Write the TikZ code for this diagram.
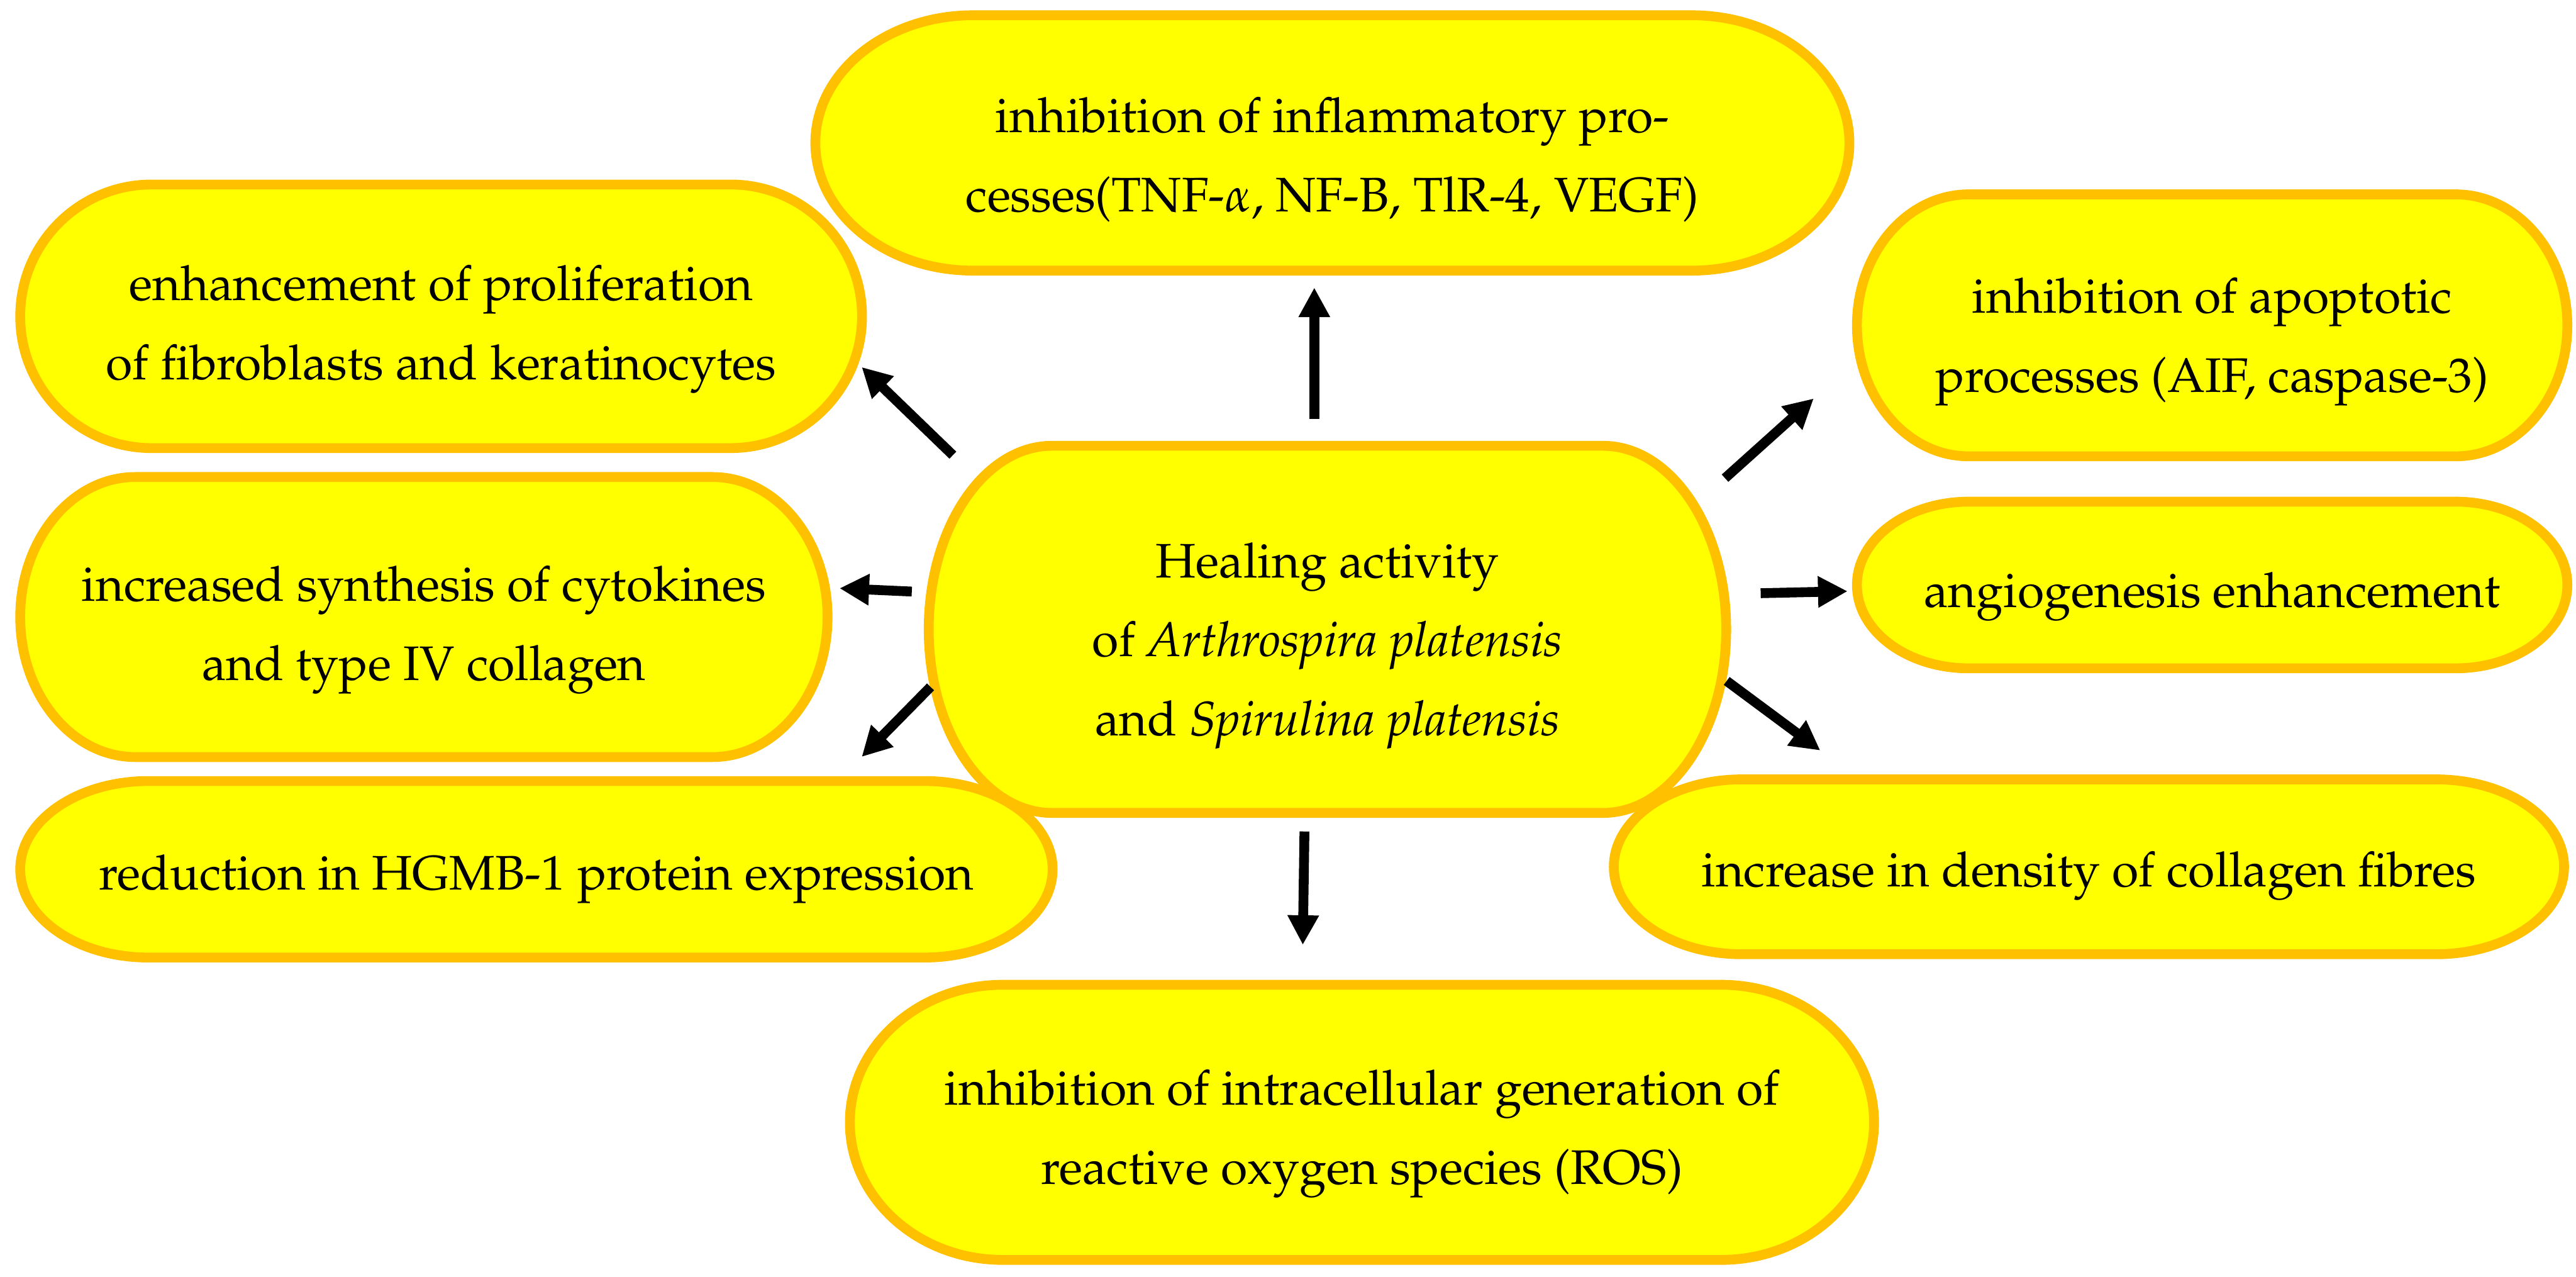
\documentclass[tikz,border=0pt]{standalone}
\usepackage[T1]{fontenc}
\usepackage{mathpazo}
\usepackage{tikz}
\usepackage{xcolor}
\usetikzlibrary{arrows.meta,backgrounds,calc}
\definecolor{pillyellow}{HTML}{FFFF00}
\definecolor{pillorange}{HTML}{FFC000}

\begin{document}
\begin{tikzpicture}[
	box/.style={inner sep=0pt, align=center, font=\fontsize{8.4}{13.7}\selectfont},
	outline/.style={draw=pillorange, fill=pillyellow, line width=1.7pt},
	arr/.style={-{Triangle[length=0.18cm,width=0.18cm]}, line width=1.7pt}
]

			\useasboundingbox (0,0) rectangle (15.68,7.77);

			\node[box, minimum width=4.84cm, minimum height=2.22cm] (hub) at (8.08,3.84) {Healing activity\\ of \textit{Arthrospira platensis}\\ and \textit{Spirulina platensis}};

			\node[box, minimum width=6.28cm, minimum height=1.54cm] (infl) at (8.11,6.80) {inhibition of inflammatory pro-\\cesses(TNF-$\alpha$, NF-B, TlR-4, VEGF)};
			\node[box, minimum width=5.11cm, minimum height=1.59cm] (prolif) at (2.685,5.765) {enhancement of proliferation\\of fibroblasts and keratinocytes};
			\node[box, minimum width=4.90cm, minimum height=1.69cm] (synth) at (2.58,3.935) {increased synthesis of cytokines\\and type IV collagen};
			\node[box, minimum width=6.27cm, minimum height=1.06cm] (hgmb) at (3.265,2.42) {reduction in HGMB-1 protein expression};
			\node[box, minimum width=6.22cm, minimum height=1.66cm] (ros) at (8.29,0.87) {inhibition of intracellular generation of\\reactive oxygen species (ROS)};
			\node[box, minimum width=4.31cm, minimum height=1.58cm] (apop) at (13.465,5.69) {inhibition of apoptotic\\processes (AIF, caspase-3)};
			\node[box, minimum width=4.31cm, minimum height=1.00cm] (angio) at (13.465,4.14) {angiogenesis enhancement};
			\node[box, minimum width=5.77cm, minimum height=1.05cm] (dens) at (12.715,2.44) {increase in density of collagen fibres};

			\begin{scope}[on background layer]
				\foreach \b/\r/\s in {hub/0.75cm/1mm, infl/0.96cm/1mm, prolif/0.80cm/0.8mm, synth/0.70cm/0.8mm, hgmb/0.78cm/0.6mm, ros/0.93cm/0.7mm, apop/0.68cm/1mm, angio/0.68cm/0.7mm, dens/0.78cm/0.55mm}
					\draw[outline] let \p1=(\b.north west), \p2=(\b.south east) in
						(\x1+\r,\y1+\s) -- (\x2-\r,\y1+\s)
						arc[start angle=90, end angle=-90, x radius=\r, y radius={(\y1-\y2)/2}]
						-- (\x1+\r,\y2+\s)
						arc[start angle=270, end angle=90, x radius=\r, y radius={(\y1-\y2)/2}]
						-- cycle;
			\end{scope}

			\coordinate (hubN) at (8.00,5.22);
			\coordinate (inflS) at (8.00,6.02);
			\coordinate (hubNW) at (5.80,5.00);
			\coordinate (prolifSE) at (5.245,5.536);
			\coordinate (hubW) at (5.55,4.17);
			\coordinate (synthE) at (5.11,4.19);
			\coordinate (hubSW) at (5.664,3.59);
			\coordinate (hgmbNE) at (5.245,3.164);
			\coordinate (hubS) at (7.94,2.71);
			\coordinate (rosN) at (7.93,2.02);
			\coordinate (hubNE) at (10.50,4.86);
			\coordinate (apopSW) at (11.04,5.345);
			\coordinate (hubE) at (10.717,4.16);
			\coordinate (angioW) at (11.246,4.172);
			\coordinate (hubSE) at (10.51,3.626);
			\coordinate (densNW) at (11.08,3.203);

			\foreach \a/\t in {hubN/inflS, hubNW/prolifSE, hubW/synthE, hubSW/hgmbNE, hubS/rosN, hubNE/apopSW, hubE/angioW, hubSE/densNW}
				\draw[arr] (\a) -- (\t);

		\end{tikzpicture}
\end{document}
